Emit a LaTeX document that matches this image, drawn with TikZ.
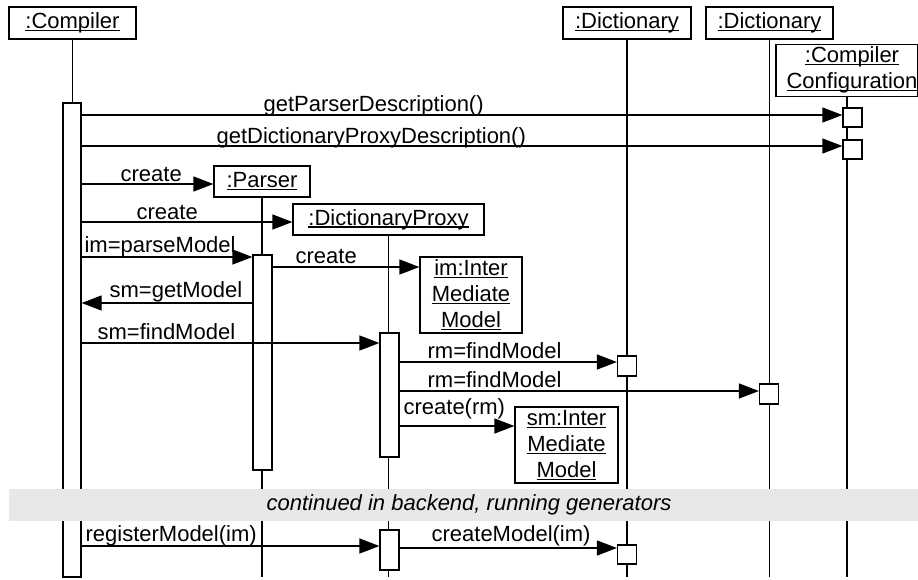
\documentclass[tikz,border=0pt]{standalone}
\usepackage{fontspec}
\setmainfont{Liberation Sans}
\usetikzlibrary{arrows.meta}
\definecolor{bandgray}{RGB}{232,232,232}
\newcommand\umlfont{\fontsize{22}{26}\selectfont}
\newcommand\ulname[1]{\setbox0\hbox{#1}\rlap{\rule[-2.4pt]{\wd0}{1.1pt}}\box0}
\tikzset{
  obj/.style={draw, fill=white, inner sep=0pt, align=center, font=\umlfont},
  act/.style={draw, fill=white, inner sep=0pt, minimum width=19},
  life/.style={line width=1.2pt},
  msg/.style={line width=1.2pt, -{Triangle[length=20pt,width=15pt]}},
  lbl/.style={anchor=base west, inner sep=0pt, font=\umlfont}
}
\begin{document}
\begin{tikzpicture}[x=1pt,y=-1pt,line width=1.2pt]
\useasboundingbox (0,0) rectangle (918,579);
\coordinate (bot) at (0,577);
\foreach \n/\y in {1/115,2/146,3/184,4/222,5/257,6/267,7/303,8/343,9/362,10/391,11/426,12/546,13/548}
  \coordinate (r\n) at (0,\y);

% objects
\node[obj, minimum width=127, minimum height=32] (comp) at (72.5,23) {\ulname{:Compiler}};
\node[obj, minimum width=128, minimum height=32] (dict1) at (627,23) {\ulname{:Dictionary}};
\node[obj, minimum width=127, minimum height=32] (dict2) at (769.5,23) {\ulname{:Dictionary}};
\node[obj, minimum width=142, minimum height=51] (conf) at (847,70.5)
  {\hspace*{10pt}\begin{tabular}{@{}c@{}}\ulname{:Compiler}\\\ulname{Configuration}\end{tabular}};
\node[obj, minimum width=96, minimum height=31] (parser) at (262,181.5) {\ulname{:Parser}};
\node[obj, minimum width=191, minimum height=31] (dproxy) at (388.5,219.5) {\ulname{:DictionaryProxy}};
\node[obj, minimum width=102, minimum height=76] (imm) at (471,295)
  {\ulname{im:Inter}\\\ulname{Mediate}\\\ulname{Model}};
\node[obj, minimum width=103, minimum height=76] (smm) at (566.5,445)
  {\ulname{sm:Inter}\\\ulname{Mediate}\\\ulname{Model}};

% lifelines
\foreach \o in {comp,dict1,dict2,conf,parser,dproxy}
  \draw[life] (\o.south) -- (\o.south |- bot);

% activations
\node[act, minimum width=18, minimum height=474] (cact) at (72,340) {};
\node[act, minimum height=19] (confA1) at (852.5,117.5) {};
\node[act, minimum height=19] (confA2) at (852.5,149.5) {};
\node[act, minimum height=215] (pact) at (262.5,362.5) {};
\node[act, minimum height=124] (dpact1) at (389.5,395) {};
\node[act, minimum height=20] (d1act1) at (627,366) {};
\node[act, minimum height=20] (d2act) at (769,394) {};
\node[act, minimum height=40] (dpact2) at (389.5,550) {};
\node[act, minimum height=19] (d1act2) at (627,554.5) {};

% messages
\draw[msg] (cact.east |- r1) -- (confA1.west |- r1);
\draw[msg] (cact.east |- r2) -- (confA2.west |- r2);
\draw[msg] (cact.east |- r3) -- (parser.west |- r3);
\draw[msg] (cact.east |- r4) -- (dproxy.west |- r4);
\draw[msg] (cact.east |- r5) -- (pact.west |- r5);
\draw[msg] (pact.east |- r6) -- (imm.west |- r6);
\draw[msg] (pact.west |- r7) -- (cact.east |- r7);
\draw[msg] (cact.east |- r8) -- (dpact1.west |- r8);
\draw[msg] (dpact1.east |- r9) -- (d1act1.west |- r9);
\draw[msg] (dpact1.east |- r10) -- (d2act.west |- r10);
\draw[msg] (dpact1.east |- r11) -- (smm.west |- r11);

\node[lbl] (l1) at (263,111) {getParserDescription()};
\node[lbl] (l2) at (216,143) {getDictionaryProxyDescription()};
\node[lbl] (l3) at (120,181) {create};
\node[lbl] (l4) at (136,219) {create};
\node[lbl] (l5) at (84,252) {im=parseModel};
\node[lbl] (l6) at (295,263) {create};
\node[lbl] (l7) at (109,297) {sm=getModel};
\node[lbl] (l8) at (97,339) {sm=findModel};
\node[lbl] (l9) at (427,358) {rm=findModel};
\node[lbl] (l10) at (427,387) {rm=findModel};
\node[lbl] (l11) at (403,414) {create(rm)};

% backend gap
\fill[bandgray] (9,489) rectangle (918,521);
\node[font=\umlfont\itshape, inner sep=0pt] (cont) at (469,505) {continued in backend, running generators};

\draw[msg] (cact.east |- r12) -- (dpact2.west |- r12);
\draw[msg] (dpact2.east |- r13) -- (d1act2.west |- r13);
\node[lbl] (l12) at (85,541) {registerModel(im)};
\node[lbl] (l13) at (431,541) {createModel(im)};
\end{tikzpicture}
\end{document}
